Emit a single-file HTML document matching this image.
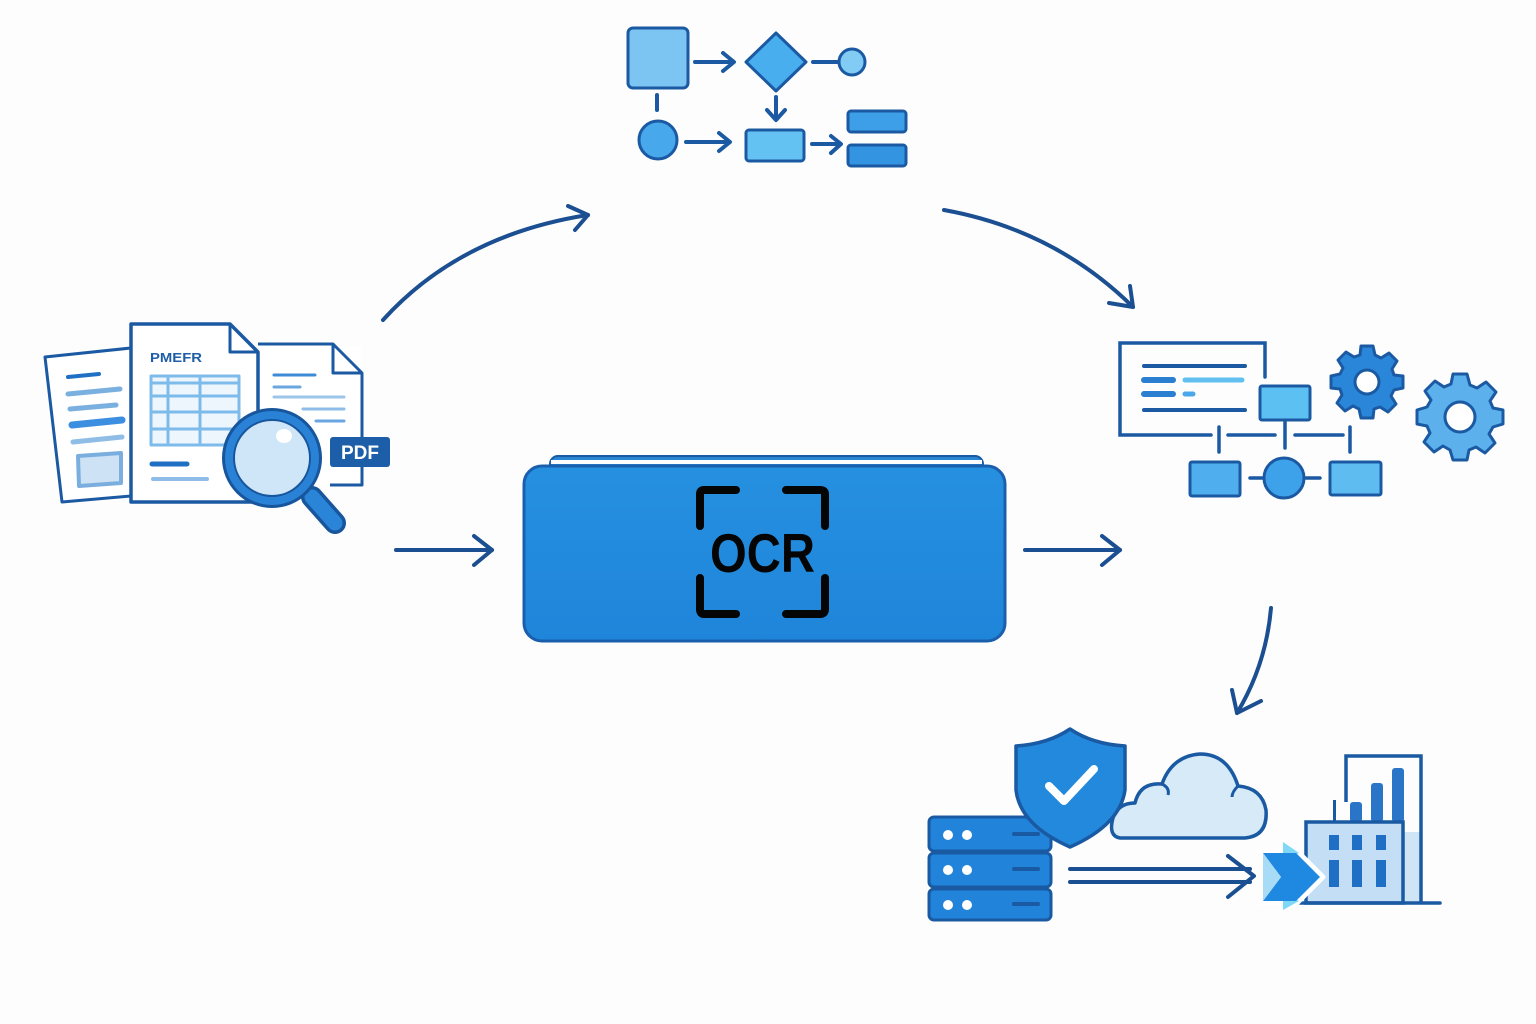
<!DOCTYPE html>
<html><head><meta charset="utf-8">
<style>
html,body{margin:0;padding:0;background:#fdfdfd;}
svg{display:block;}
</style></head>
<body>
<svg width="1536" height="1024" viewBox="0 0 1536 1024" xmlns="http://www.w3.org/2000/svg">
<rect width="1536" height="1024" fill="#fdfdfd"/>
<defs>
<linearGradient id="ocrg" x1="0" y1="0" x2="0" y2="1">
<stop offset="0" stop-color="#2690e0"/><stop offset="1" stop-color="#1f85da"/>
</linearGradient>
</defs>

<!-- ============ connector arrows ============ -->
<g fill="none" stroke="#1b4f91" stroke-width="4" stroke-linecap="round" stroke-linejoin="round">
  <path d="M383,320 Q460,235 588,215"/>
  <path d="M568,206 L588,215 L575,230"/>
  <path d="M944,210 Q1055,230 1133,307"/>
  <path d="M1130,286 L1133,307 L1109,303"/>
  <path d="M1271,608 Q1266,665 1237,713"/>
  <path d="M1232,690 L1237,713 L1261,701"/>
  <path d="M396,550 L492,550"/>
  <path d="M474,536 L492,550 L474,565"/>
  <path d="M1025,550 L1120,550"/>
  <path d="M1102,536 L1120,550 L1102,565"/>
</g>

<!-- ============ OCR box ============ -->
<rect x="550" y="456" width="433" height="20" rx="8" fill="#2a86d4" stroke="#1a5aa3" stroke-width="2"/>
<rect x="551" y="460" width="431" height="4" fill="#fdfdfd"/>
<rect x="524" y="466" width="481" height="175" rx="18" fill="url(#ocrg)" stroke="#1a5fad" stroke-width="3"/>
<g fill="none" stroke="#050505" stroke-width="8" stroke-linecap="round" stroke-linejoin="round">
  <path d="M700,526 L700,494 Q700,490 704,490 L736,490"/>
  <path d="M786,490 L820,490 Q825,490 825,494 L825,526"/>
  <path d="M700,578 L700,609 Q700,614 704,614 L736,614"/>
  <path d="M786,614 L820,614 Q825,614 825,609 L825,578"/>
</g>
<text x="710" y="572" font-family="Liberation Sans, sans-serif" font-weight="bold" font-size="55" fill="#050505" textLength="105" lengthAdjust="spacingAndGlyphs">OCR</text>

<!-- ============ Documents (left) ============ -->
<g stroke-linejoin="round">
  <polygon points="45,357 131,348 131,496 62,502" fill="#ffffff" stroke="#1b5aa3" stroke-width="3"/>
  <g stroke-linecap="round" fill="none">
    <path d="M68,377 L99,374" stroke="#1f6fc4" stroke-width="4"/>
    <path d="M68,394 L120,389" stroke="#7ab0e0" stroke-width="5"/>
    <path d="M70,409 L116,405" stroke="#7ab0e0" stroke-width="5"/>
    <path d="M72,425 L122,420" stroke="#3b8ee0" stroke-width="7"/>
    <path d="M73,442 L122,437" stroke="#8fbde6" stroke-width="5"/>
  </g>
  <polygon points="78,456 121,453 121,483 79,486" fill="#cde3f5" stroke="#7aaede" stroke-width="4"/>

  <rect x="258" y="346" width="103" height="138" fill="#fff"/>
  <path d="M258,344 L333,344 L362,373 L362,485 L330,485" fill="none" stroke="#1b5aa3" stroke-width="3"/>
  <path d="M333,344 L333,373 L362,373" fill="none" stroke="#1b5aa3" stroke-width="3"/>
  <g stroke-linecap="round" fill="none" stroke-width="3">
    <path d="M274,375 L315,375" stroke="#3d8ad6"/>
    <path d="M274,387 L300,387" stroke="#6aa7e0"/>
    <path d="M274,397 L344,397" stroke="#9cc5ea"/>
    <path d="M303,409 L344,409" stroke="#8dbde8"/>
    <path d="M316,421 L344,421" stroke="#6aa7e0"/>
  </g>

  <path d="M131,324 L230,324 L258,352 L258,502 L131,502 Z" fill="#ffffff" stroke="#1b5aa3" stroke-width="3.5"/>
  <path d="M230,324 L230,352 L258,352" fill="none" stroke="#1b5aa3" stroke-width="3"/>
  <text x="150" y="362" font-family="Liberation Sans, sans-serif" font-weight="bold" font-size="13" fill="#1f5fa8" textLength="52" lengthAdjust="spacingAndGlyphs">PMEFR</text>
  <rect x="151" y="376" width="88" height="69" fill="#eef6fd" stroke="#7dbbea" stroke-width="3"/>
  <g stroke="#7dbbea" stroke-width="3" fill="none">
    <path d="M151,383 L239,383"/><path d="M151,396 L239,396"/><path d="M151,412 L239,412"/><path d="M151,429 L239,429"/>
    <path d="M168,376 L168,445"/><path d="M200,376 L200,445"/>
  </g>
  <path d="M152,464 L187,464" stroke="#1f6fc4" stroke-width="5" stroke-linecap="round"/>
  <path d="M153,479 L207,479" stroke="#8dbde8" stroke-width="4" stroke-linecap="round"/>

  <rect x="330" y="437" width="60" height="30" rx="3" fill="#1d5ea8"/>
  <text x="360" y="459" text-anchor="middle" font-family="Liberation Sans, sans-serif" font-weight="bold" font-size="19" fill="#ffffff">PDF</text>

  <path d="M312,497 L335,523" stroke="#17559c" stroke-width="22" stroke-linecap="round"/>
  <path d="M312,497 L335,523" stroke="#2a84d8" stroke-width="15" stroke-linecap="round"/>
  <circle cx="272" cy="458" r="50" fill="#17559c"/>
  <circle cx="272" cy="458" r="47" fill="#2a82d6"/>
  <circle cx="272" cy="458" r="38" fill="#cfe6f8" stroke="#17559c" stroke-width="2"/>
  <ellipse cx="284" cy="436" rx="8" ry="7" fill="#ffffff"/>
</g>

<!-- ============ Top flowchart ============ -->
<g stroke="#1b5aa3" stroke-width="3" stroke-linejoin="round">
  <rect x="628" y="28" width="60" height="60" rx="5" fill="#7cc4f2"/>
  <polygon points="776,33 806,62 776,91 746,62" fill="#48aeee"/>
  <circle cx="852" cy="62" r="13" fill="#82cbf4"/>
  <circle cx="658" cy="140" r="19" fill="#48a8ec"/>
  <rect x="746" y="130" width="58" height="31" rx="3" fill="#64c2f2"/>
  <rect x="848" y="111" width="58" height="21" rx="3" fill="#3d9fe8"/>
  <rect x="848" y="145" width="58" height="21" rx="3" fill="#3394e2"/>
</g>
<g fill="none" stroke="#1b5aa3" stroke-width="4" stroke-linecap="round" stroke-linejoin="round">
  <path d="M695,62 L733,62"/><path d="M723,53 L734,62 L723,71"/>
  <path d="M813,62 L838,62"/>
  <path d="M657,95 L657,110"/>
  <path d="M776,97 L776,119"/><path d="M767,110 L776,120 L785,110"/>
  <path d="M686,142 L729,142"/><path d="M719,133 L730,142 L719,151"/>
  <path d="M812,144 L840,144"/><path d="M831,136 L841,144 L831,153"/>
</g>

<!-- ============ Right diagram ============ -->
<g fill="none" stroke="#1b5aa3" stroke-width="3.5" stroke-linecap="round">
  <path d="M1211,435 L1120,435 L1120,343 L1265,343 L1265,377"/>
  <path d="M1228,435 L1275,435"/><path d="M1295,435 L1343,435"/>
  <path d="M1219,427 L1219,452"/><path d="M1350,427 L1350,452"/>
  <path d="M1285,421 L1285,448"/>
  <path d="M1250,478 L1263,478"/><path d="M1306,478 L1320,478"/>
</g>
<g stroke-linecap="round" fill="none">
  <path d="M1144,366 L1245,366" stroke="#1b5aa3" stroke-width="4"/>
  <path d="M1144,380 L1173,380" stroke="#2a7fd0" stroke-width="6"/>
  <path d="M1185,380 L1242,380" stroke="#62c0f0" stroke-width="5"/>
  <path d="M1144,394 L1173,394" stroke="#2a7fd0" stroke-width="6"/>
  <path d="M1185,394 L1193,394" stroke="#4aa8ea" stroke-width="5"/>
  <path d="M1144,410 L1245,410" stroke="#1b5aa3" stroke-width="4"/>
</g>
<g stroke="#1b5aa3" stroke-width="3">
  <rect x="1260" y="386" width="50" height="34" rx="2" fill="#5cc0f2"/>
  <rect x="1190" y="462" width="50" height="34" rx="2" fill="#4eaeee"/>
  <circle cx="1284" cy="478" r="20" fill="#3da2ea"/>
  <rect x="1330" y="462" width="51" height="33" rx="2" fill="#5ebcf0"/>
</g>
<g stroke="#1b5aa3" stroke-width="3" stroke-linejoin="round">
  <g transform="translate(1367,382)">
    <path fill="#2a86d8" d="M-6,-36 L6,-36 L8,-27 L14,-24 L22,-29 L30,-21 L25,-13 L27,-7 L36,-6 L36,6 L27,8 L24,14 L29,22 L21,30 L13,25 L7,27 L6,36 L-6,36 L-8,27 L-14,24 L-22,29 L-30,21 L-25,13 L-27,7 L-36,6 L-36,-6 L-27,-8 L-24,-14 L-29,-22 L-21,-30 L-13,-25 L-7,-27 Z"/>
    <circle r="12" fill="#ffffff"/>
  </g>
  <g transform="translate(1460,417)">
    <path fill="#5cb0ec" d="M-7,-43 L7,-43 L10,-32 L17,-29 L26,-35 L36,-25 L30,-16 L33,-9 L43,-7 L43,7 L33,10 L29,17 L35,26 L25,36 L16,30 L9,33 L7,43 L-7,43 L-10,33 L-17,29 L-26,35 L-36,25 L-30,16 L-33,9 L-43,7 L-43,-7 L-33,-10 L-29,-17 L-35,-26 L-25,-36 L-16,-30 L-9,-33 Z"/>
    <circle r="15" fill="#ffffff"/>
  </g>
</g>

<!-- ============ Bottom right ============ -->
<g stroke="#1a5aa3" stroke-width="3">
  <rect x="929" y="817" width="122" height="34" rx="5" fill="#2283da"/>
  <rect x="929" y="853" width="122" height="34" rx="5" fill="#2283da"/>
  <rect x="929" y="889" width="122" height="31" rx="5" fill="#2283da"/>
</g>
<g fill="#ffffff">
  <circle cx="948" cy="835" r="5"/><circle cx="967" cy="835" r="5"/>
  <circle cx="948" cy="870" r="5"/><circle cx="967" cy="870" r="5"/>
  <circle cx="948" cy="905" r="5"/><circle cx="967" cy="905" r="5"/>
</g>
<g stroke="#1a5aa3" stroke-width="4" stroke-linecap="round">
  <path d="M1014,834 L1038,834"/><path d="M1014,869 L1038,869"/><path d="M1014,904 L1038,904"/>
</g>
<path d="M1120,838 Q1108,836 1113,818 Q1118,803 1135,803 Q1140,782 1162,784 Q1172,756 1200,754 Q1228,754 1238,786 Q1262,788 1266,810 Q1268,836 1245,838 Z" fill="#d6eaf8" stroke="#1a5aa3" stroke-width="3.5" stroke-linejoin="round"/>
<path d="M1162,784 Q1170,788 1168,795" fill="none" stroke="#1a5aa3" stroke-width="3"/>
<path d="M1238,786 Q1232,792 1232,797" fill="none" stroke="#1a5aa3" stroke-width="3"/>
<path d="M1070,729 Q1092,744 1125,746 L1125,790 Q1120,825 1070,847 Q1020,825 1016,790 L1016,746 Q1048,744 1070,729 Z" fill="#2389dc" stroke="#1a5aa3" stroke-width="3.5" stroke-linejoin="round"/>
<path d="M1049,786 L1064,801 L1094,769" fill="none" stroke="#ffffff" stroke-width="8" stroke-linecap="round" stroke-linejoin="round"/>
<g fill="none" stroke="#1a4f91" stroke-width="4" stroke-linecap="round" stroke-linejoin="round">
  <path d="M1070,869 L1250,869"/>
  <path d="M1070,882 L1250,882"/>
  <path d="M1228,856 L1254,876 L1228,897"/>
</g>
<!-- building -->
<rect x="1403" y="832" width="19" height="71" fill="#cfe5f6"/>
<path d="M1346,802 L1346,756 L1421,756 L1421,903" fill="none" stroke="#1a5aa3" stroke-width="3.5"/>
<rect x="1333" y="800" width="3" height="22" fill="#1a5aa3"/>
<rect x="1350" y="802" width="12" height="20" rx="3" fill="#2a75c8"/>
<rect x="1371" y="783" width="12" height="39" rx="3" fill="#2a75c8"/>
<rect x="1392" y="768" width="12" height="54" rx="3" fill="#2a75c8"/>
<rect x="1306" y="822" width="97" height="81" fill="#c4dff5" stroke="#1a5aa3" stroke-width="3.5"/>
<g fill="#1f6fc4">
  <rect x="1329" y="835" width="10" height="15"/><rect x="1352" y="835" width="10" height="15"/><rect x="1376" y="835" width="10" height="15"/>
  <rect x="1329" y="860" width="10" height="27"/><rect x="1352" y="860" width="10" height="27"/><rect x="1376" y="860" width="10" height="27"/>
</g>
<path d="M1300,903 L1440,903" stroke="#1a5aa3" stroke-width="3.5" stroke-linecap="round"/>
<!-- chevron on top -->
<polygon points="1261,851 1297,851 1323,877 1297,903 1261,903 1279,877" fill="#ffffff" stroke="#ffffff" stroke-width="5" stroke-linejoin="round"/>
<polygon points="1283,842 1299,853 1283,861" fill="#7fd8f6"/>
<polygon points="1283,893 1299,901 1283,910" fill="#7fd8f6"/>
<polygon points="1263,853 1296,853 1320,877 1296,901 1263,901 1281,877" fill="#1f88e0"/>
<polygon points="1263,853 1281,877 1263,901" fill="#a8dcf6"/>
</svg>
</body></html>
